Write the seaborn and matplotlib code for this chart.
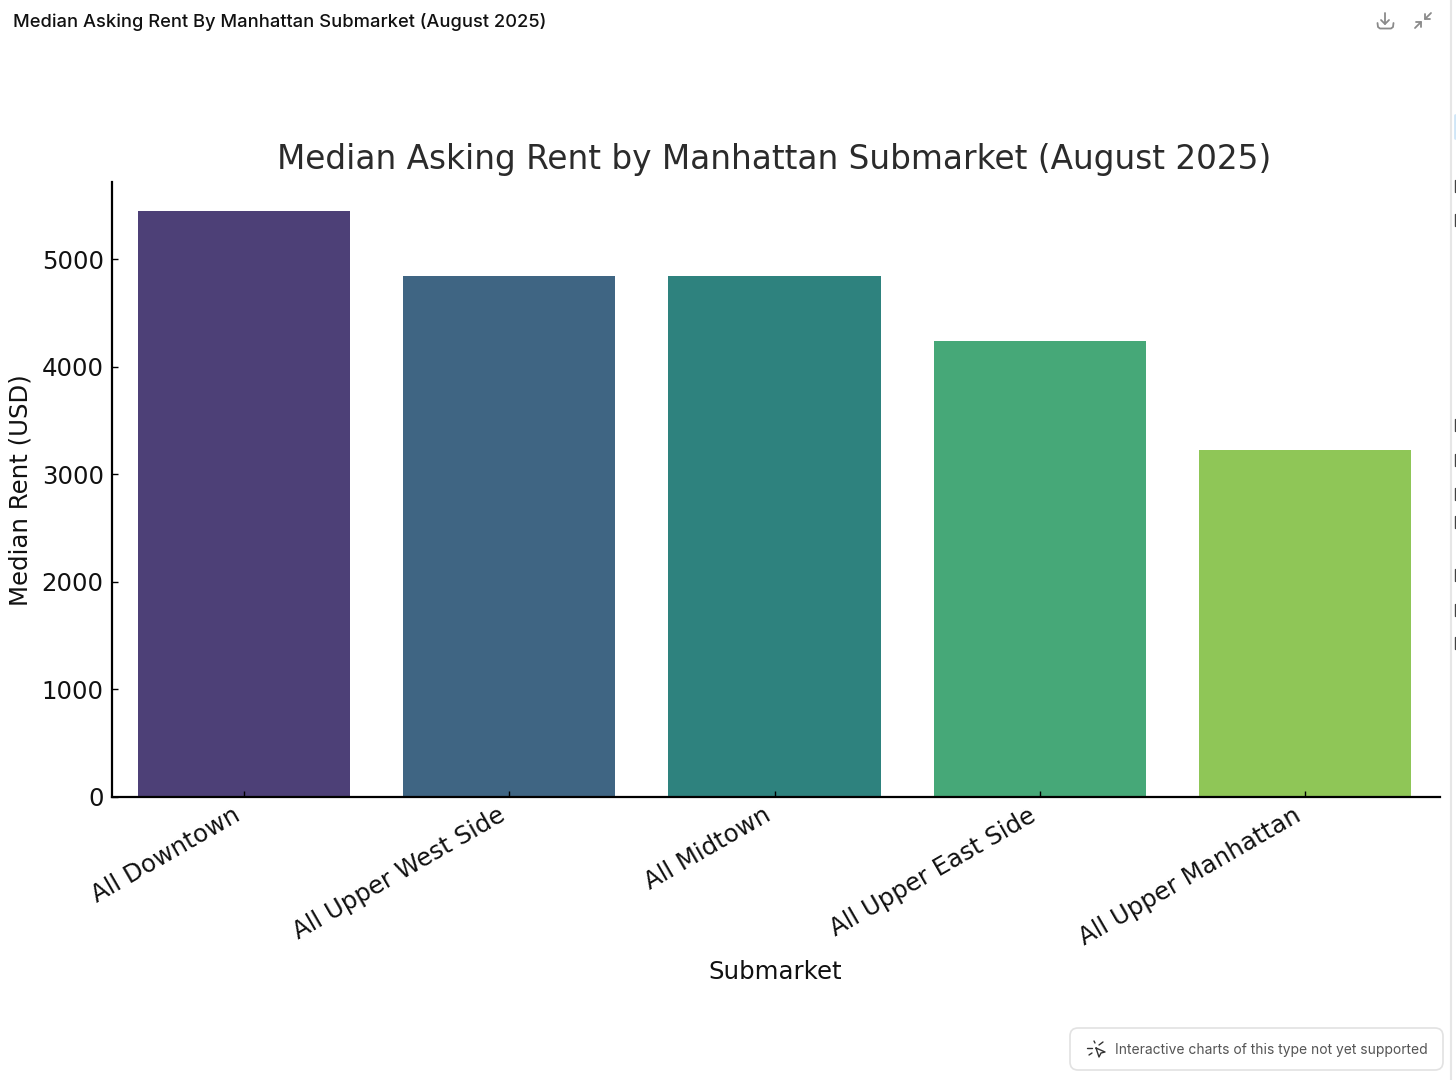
import matplotlib
matplotlib.use("Agg")
import matplotlib.pyplot as plt
from matplotlib.lines import Line2D
from matplotlib.patches import FancyBboxPatch
from matplotlib.transforms import Affine2D
import pandas as pd
import seaborn as sns

# Chart data
submarkets = ["All Downtown", "All Upper West Side", "All Midtown", "All Upper East Side", "All Upper Manhattan"]
rents = [5450, 4845, 4840, 4240, 3225]
y_ticks = [0, 1000, 2000, 3000, 4000, 5000]
bar_colors = ["#4d4077", "#3f6583", "#2e827e", "#46a878", "#8fc657"]

df = pd.DataFrame({"Submarket": submarkets, "Rent": rents})

sns.set_style("white")
W, H = 1456, 1080
fig = plt.figure(figsize=(W / 100, H / 100), dpi=100)
ax = fig.add_axes([112 / W, 1 - 797 / H, (1440 - 112) / W, (797 - 182) / H])

sns.barplot(data=df, x="Submarket", y="Rent", hue="Submarket", palette=bar_colors,
            legend=False, width=0.8, saturation=1, linewidth=0, ax=ax)

ax.set_xlim(-0.4977, 4.509)
ax.set_ylim(0, 5716)
ax.set_axisbelow(False)
sns.despine(ax=ax)
for side in ["left", "bottom"]:
    ax.spines[side].set_color("black")
    ax.spines[side].set_linewidth(1.6)

ax.set_yticks(y_ticks)
ax.set_xticks(range(5))
ax.set_xticklabels(submarkets, rotation=30, ha="right", fontsize=17.6, color="#111111")
ax.tick_params(axis="y", left=True, direction="in", length=4.5, width=1, color="black",
               labelsize=17.6, labelcolor="#111111", pad=6)
ax.tick_params(axis="x", bottom=True, direction="in", length=4.5, width=1, color="black", pad=4.5)
ax.set_xlabel("Submarket", fontsize=17.6, color="#111111")
ax.xaxis.set_label_coords(775 / W, 1 - 972 / H, transform=fig.transFigure)
ax.xaxis.label.set_verticalalignment("center")
ax.set_ylabel("Median Rent (USD)", fontsize=17.6, color="#111111")
ax.yaxis.set_label_coords(21 / W, 1 - 490 / H, transform=fig.transFigure)
ax.yaxis.label.set_verticalalignment("center")

fig.text(774 / W, 1 - 156 / H, "Median Asking Rent by Manhattan Submarket (August 2025)",
         ha="center", va="center_baseline", fontsize=23.6, color="#2b2b2b")

# Page chrome around the chart
fig.text(13 / W, 1 - 22 / H, "Median Asking Rent By Manhattan Submarket (August 2025)",
         ha="left", va="center", fontsize=13.2, color="#111111", family="Inter", fontweight="medium")
fig.text(1115 / W, 1 - 1050 / H, "Interactive charts of this type not yet supported",
         ha="left", va="center", fontsize=9.97, color="#555555", family="Inter")

card = FancyBboxPatch((1070, 1028), 373, 42, boxstyle="round,pad=0,rounding_size=8",
                      facecolor="white", edgecolor="#e2e2e2", linewidth=1.2,
                      transform=Affine2D().scale(1, -1).translate(0, H))
fig.add_artist(card)


def chrome_line(xs, ys, color="#8a8a8a", lw=1.3):
    fig.add_artist(Line2D([x / W for x in xs], [1 - y / H for y in ys], color=color, lw=lw,
                          transform=fig.transFigure))


# download icon
chrome_line([1385, 1385], [13, 24])
chrome_line([1381, 1385, 1389], [20, 24, 20])
chrome_line([1377.5, 1378, 1380, 1391, 1393, 1393.5], [23, 27, 28.5, 28.5, 27, 23])
# collapse icon
chrome_line([1415, 1421], [28, 22])
chrome_line([1416, 1421, 1421], [22, 22, 27])
chrome_line([1425, 1431], [19, 13])
chrome_line([1425, 1425, 1430], [14, 19, 19])
# click icon on the card
chrome_line([1096, 1105, 1101, 1099, 1096], [1048, 1052, 1053, 1057, 1048], color="#333333", lw=1.0)
chrome_line([1094, 1095], [1041, 1043], color="#333333", lw=1.0)
chrome_line([1087, 1092], [1048, 1048], color="#333333", lw=1.0)
chrome_line([1089, 1092], [1055, 1053], color="#333333", lw=1.0)
chrome_line([1099, 1103], [1045, 1042], color="#333333", lw=1.0)
# edge of the page, with the next pane just showing behind it
chrome_line([1451, 1451], [0, 1080], color="#e6e6e6", lw=1.5)
chrome_line([1454.5, 1454.5], [115, 138], color="#cfe6f7", lw=2)
for mark_y in [186, 220, 425, 460, 494, 522, 575, 610, 643]:
    chrome_line([1455, 1455], [mark_y - 6, mark_y + 6], color="#444444", lw=1.0)

plt.savefig("out.png", dpi=100)
